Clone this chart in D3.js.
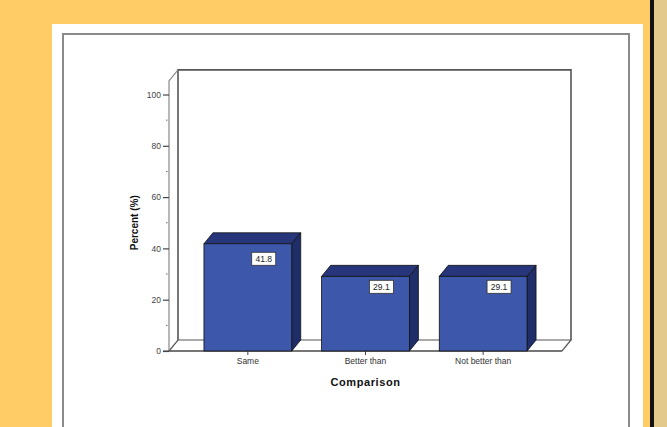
<!DOCTYPE html>
<html>
<head>
<meta charset="utf-8">
<script src="https://cdn.jsdelivr.net/npm/d3@7"></script>
<style>
  body { margin: 0; background: #FFCC66; }
  svg { display: block; font-family: "Liberation Sans", Arial, sans-serif; }
</style>
</head>
<body>
<svg id="chart"></svg>
<script>
const categories = ["Same", "Better than", "Not better than"];
const percents = [41.8, 29.1, 29.1];
const yTicks = [0, 20, 40, 60, 80, 100];
const yMinorTicks = [10, 30, 50, 70, 90];

const width = 667;
const height = 427;
const svg = d3.select("#chart")
  .attr("width", width)
  .attr("height", height);

// page background pieces
svg.append("rect").attr("x", 0).attr("y", 0).attr("width", width).attr("height", height).attr("fill", "#FFCC66");
svg.append("rect").attr("x", 650).attr("y", 0).attr("width", 4).attr("height", height).attr("fill", "#111");
svg.append("rect").attr("x", 654).attr("y", 0).attr("width", 13).attr("height", height).attr("fill", "#E4C98C");
svg.append("rect").attr("x", 52).attr("y", 24).attr("width", 591).attr("height", 410).attr("fill", "#fff");
svg.append("rect").attr("x", 63).attr("y", 34).attr("width", 566).attr("height", 400)
  .attr("fill", "#fff").attr("stroke", "#8a8a8a").attr("stroke-width", 2);

// 3D offset
const dx = 9, dy = -11;

const x = d3.scaleBand()
  .domain(categories)
  .range([169, 562])
  .paddingInner(0.254)
  .paddingOuter(0.297);

const y = d3.scaleLinear()
  .domain([0, 100])
  .range([351, 94.5]);

const x0 = 169, x1 = 562;
const yTop = y(105.3);
const yBase = y(0);

// back wall + floor
const wall = d3.path();
wall.moveTo(x0 + dx, yBase + dy);
wall.lineTo(x0 + dx, yTop + dy);
wall.lineTo(x1 + dx, yTop + dy);
wall.lineTo(x1 + dx, yBase + dy);
svg.append("path").attr("d", wall.toString())
  .attr("fill", "none").attr("stroke", "#555").attr("stroke-width", 1.6);

svg.append("path")
  .attr("d", `M${x0},${yBase}L${x0 + dx},${yBase + dy}L${x1 + dx},${yBase + dy}L${x1},${yBase}Z`)
  .attr("fill", "#fff").attr("stroke", "#555").attr("stroke-width", 1.2);

// left side wall edge
svg.append("path")
  .attr("d", `M${x0},${yBase}L${x0},${yTop}L${x0 + dx},${yTop + dy}`)
  .attr("fill", "none").attr("stroke", "#888").attr("stroke-width", 1.2);

// Axe vertical
const yAxis = svg.append("g")
  .attr("transform", `translate(${x0},0)`)
  .call(d3.axisLeft(y).tickValues(yTicks).tickSize(6).tickPadding(2).tickFormat(d3.format("d")));
yAxis.select(".domain").remove();
yAxis.selectAll(".tick line").attr("stroke", "#444").attr("stroke-width", 1.2);
yAxis.selectAll(".tick text").attr("fill", "#444").style("font-size", "8.5px");

svg.append("g").selectAll("line")
  .data(yMinorTicks)
  .join("line")
  .attr("x1", x0 - 3).attr("x2", x0 - 1.5)
  .attr("y1", d => y(d)).attr("y2", d => y(d))
  .attr("stroke", "#666");

// Axe horizontal
const xAxis = svg.append("g")
  .attr("transform", `translate(0,${yBase})`)
  .call(d3.axisBottom(x).tickSize(4).tickPadding(3));
xAxis.select(".domain").remove();
xAxis.selectAll(".tick line").attr("stroke", "#444");
xAxis.selectAll(".tick text").attr("fill", "#333").style("font-size", "8.5px");

// floor front line
svg.append("line").attr("x1", x0 - 6).attr("x2", x1).attr("y1", yBase).attr("y2", yBase)
  .attr("stroke", "#444").attr("stroke-width", 1.2);

// Barres
const data = categories.map((c, i) => ({ cat: c, value: percents[i] }));
const bw = x.bandwidth();
const bars = svg.append("g").selectAll("g").data(data).join("g");

bars.append("path")
  .attr("d", d => {
    const bx = x(d.cat), by = y(d.value);
    return `M${bx},${by}L${bx + dx},${by + dy}L${bx + bw + dx},${by + dy}L${bx + bw},${by}Z`;
  })
  .attr("fill", "#27367a").attr("stroke", "#111").attr("stroke-width", 0.8);

bars.append("path")
  .attr("d", d => {
    const bx = x(d.cat) + bw, by = y(d.value);
    return `M${bx},${by}L${bx + dx},${by + dy}L${bx + dx},${yBase + dy}L${bx},${yBase}Z`;
  })
  .attr("fill", "#1f2d68").attr("stroke", "#111").attr("stroke-width", 0.8);

bars.append("rect")
  .attr("x", d => x(d.cat))
  .attr("y", d => y(d.value))
  .attr("width", bw)
  .attr("height", d => yBase - y(d.value))
  .attr("fill", "#3d57ab").attr("stroke", "#111").attr("stroke-width", 0.8);

// Valeurs (box centred a bit below the bar top)
const labelY = d => y(d.value * 0.86);

bars.append("rect")
  .attr("x", d => x(d.cat) + bw - 40)
  .attr("y", d => labelY(d) - 6.5)
  .attr("width", 24).attr("height", 13)
  .attr("fill", "#fff").attr("stroke", "#333").attr("stroke-width", 0.8);

bars.append("text")
  .attr("x", d => x(d.cat) + bw - 28)
  .attr("y", d => labelY(d) + 3.3)
  .attr("text-anchor", "middle")
  .attr("fill", "#222")
  .style("font-size", "8.5px")
  .text(d => d.value.toFixed(1));

// axis titles
svg.append("text")
  .attr("transform", `translate(138,${y(50)}) rotate(-90)`)
  .attr("text-anchor", "middle")
  .style("font-size", "10px").style("font-weight", "bold")
  .attr("fill", "#111")
  .text("Percent (%)");

svg.append("text")
  .attr("x", (x0 + x1) / 2)
  .attr("y", 386)
  .attr("text-anchor", "middle")
  .style("font-size", "11px").style("font-weight", "bold").style("letter-spacing", "0.6px")
  .attr("fill", "#111")
  .text("Comparison");
</script>
</body>
</html>
